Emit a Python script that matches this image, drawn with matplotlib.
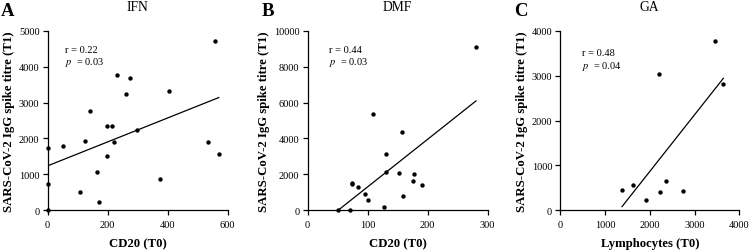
import matplotlib
matplotlib.use("Agg")
import matplotlib.pyplot as plt
import numpy as np

plt.rcParams['font.family'] = ['Liberation Serif', 'DejaVu Serif']
plt.rcParams['mathtext.fontset'] = 'stix'

# Panel A: IFN
ifn_x = [0, 0, 0, 53, 126, 143, 108, 166, 171, 198, 215, 198, 221, 232, 261, 274, 297, 405, 374, 557, 534, 571]
ifn_y = [1729, 734, 0, 1794, 1933, 2751, 511, 1069, 242, 2333, 2333, 1515, 1914, 3764, 3234, 3680, 2230, 3323, 864, 4716, 1903, 1579]
ifn_fit_x = [0, 571]
ifn_fit_y = [1236, 3139]

# Panel B: DMF
dmf_x = [51, 70, 73.7, 74.7, 83.6, 95.3, 101.4, 109, 128, 130.8, 130, 157.5, 152, 178, 175.8, 191.3, 159.7, 280.8]
dmf_y = [0, 0, 1521, 1448, 1298, 930, 596, 5387, 167, 3159, 2117, 4362, 2061, 2022, 1632, 1432, 780, 9098]
dmf_fit_x = [51, 280.8]
dmf_fit_y = [0, 6089]

# Panel C: GA
ga_x = [1379, 1618, 1908, 2362, 2221, 2749, 2206, 3464, 3643]
ga_y = [446, 558, 223, 654, 409, 431, 3036, 3765, 2820]
ga_fit_x = [1379, 3643]
ga_fit_y = [82, 2939]

panels = [
    dict(letter='A', title='IFN', x=ifn_x, y=ifn_y, fx=ifn_fit_x, fy=ifn_fit_y,
         xlabel='CD20 (T0)', xlim=(0, 600), xticks=[0, 200, 400, 600],
         ylim=(0, 5000), yticks=[0, 1000, 2000, 3000, 4000, 5000],
         r='r = 0.22', p='$p$  = 0.03', left=47.5, width=180, tx=0.098, ty=(0.895, 0.83)),
    dict(letter='B', title='DMF', x=dmf_x, y=dmf_y, fx=dmf_fit_x, fy=dmf_fit_y,
         xlabel='CD20 (T0)', xlim=(0, 300), xticks=[0, 100, 200, 300],
         ylim=(0, 10000), yticks=[0, 2000, 4000, 6000, 8000, 10000],
         r='r = 0.44', p='$p$  = 0.03', left=307.5, width=180, tx=0.12, ty=(0.895, 0.83)),
    dict(letter='C', title='GA', x=ga_x, y=ga_y, fx=ga_fit_x, fy=ga_fit_y,
         xlabel='Lymphocytes (T0)', xlim=(0, 4000), xticks=[0, 1000, 2000, 3000, 4000],
         ylim=(0, 4000), yticks=[0, 1000, 2000, 3000, 4000],
         r='r = 0.48', p='$p$  = 0.04', left=560.3, width=179, tx=0.12, ty=(0.88, 0.805)),
]

W, H = 752, 253
fig = plt.figure(figsize=(W / 100, H / 100), dpi=100)
bottom_px = 211.3
top_px = 31.7
for pnl in panels:
    ax = fig.add_axes([pnl['left'] / W, (H - bottom_px) / H, pnl['width'] / W, (bottom_px - top_px) / H])
    ax.scatter(pnl['x'], pnl['y'], s=10, color='black', zorder=3, clip_on=False, linewidths=0)
    ax.plot(pnl['fx'], pnl['fy'], color='black', lw=0.9)
    ax.set_xlim(*pnl['xlim'])
    ax.set_ylim(*pnl['ylim'])
    ax.set_xticks(pnl['xticks'])
    ax.set_yticks(pnl['yticks'])
    for s in ['top', 'right']:
        ax.spines[s].set_visible(False)
    for s in ['left', 'bottom']:
        ax.spines[s].set_linewidth(0.9)
    ax.tick_params(direction='out', length=3.6, width=0.9, labelsize=7.5)
    ax.tick_params(axis='y', pad=2.2)
    ax.tick_params(axis='x', pad=3.5)
    ax.set_xlabel(pnl['xlabel'], fontsize=9.2, fontweight='bold', labelpad=6)
    ax.set_ylabel('SARS-CoV-2 IgG spike titre (T1)', fontsize=9.2, fontweight='bold', labelpad=2.5)
    ax.set_title(pnl['title'], fontsize=9.8, pad=15)
    ax.text(pnl['tx'], pnl['ty'][0], pnl['r'], transform=ax.transAxes, fontsize=7.5, va='center')
    ax.text(pnl['tx'], pnl['ty'][1], pnl['p'], transform=ax.transAxes, fontsize=7.5, va='center')
    fig.text((pnl['left'] - 39.5) / W, 1 - 12 / H, pnl['letter'], fontsize=13.5, fontweight='bold',
             va='center', ha='center')

fig.savefig('out.png', dpi=100)
